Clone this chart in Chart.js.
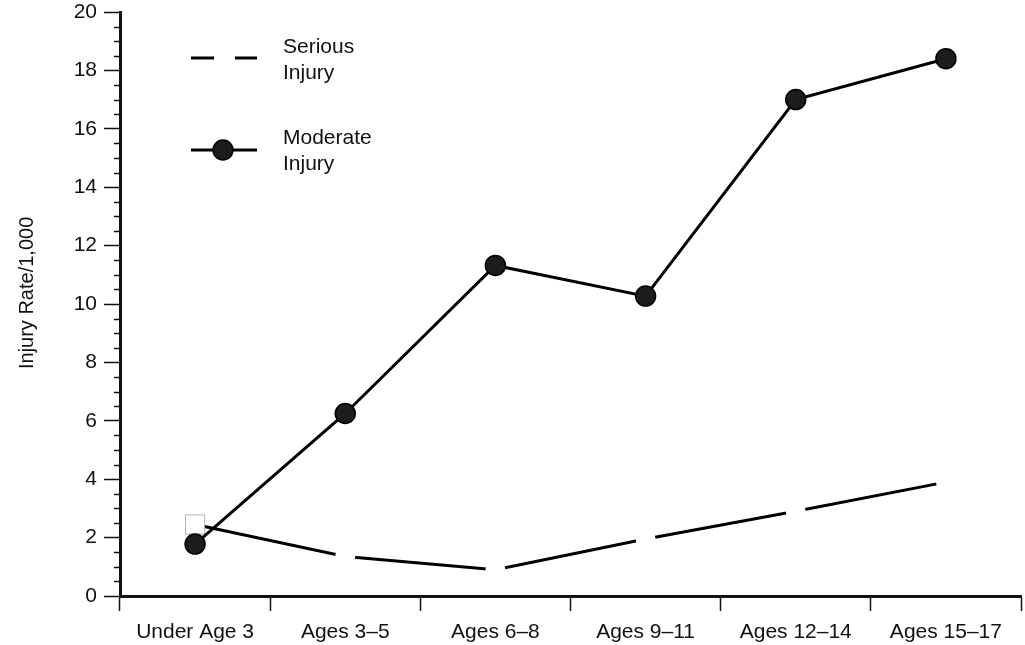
<!DOCTYPE html>
<html lang="en">
<head>
    <meta charset="UTF-8" />
    <title>Injury Rate by Age</title>
    <script src="https://cdn.jsdelivr.net/npm/chart.js"></script>
    <style>
        html, body { margin: 0; padding: 0; background: #fff; }
        #wrap { width: 1025px; height: 645px; }
    </style>
</head>
<body>
    <div id="wrap"><canvas id="injuryChart" width="1025" height="645"></canvas></div>
    <script>
        const ageGroups = ["Under Age 3", "Ages 3\u20135", "Ages 6\u20138", "Ages 9\u201311", "Ages 12\u201314", "Ages 15\u201317"];
        const seriousRates = [2.45, 1.35, 0.9, 1.95, 2.9, 3.9];
        const moderateRates = [1.78, 6.25, 11.32, 10.27, 17.0, 18.4];
        const yTicks = [0, 2, 4, 6, 8, 10, 12, 14, 16, 18, 20];

        const fontFamily = '"Liberation Sans", Arial, Helvetica, sans-serif';

        // minor ticks on the y axis every 0.5
        const minorTicks = {
            id: "minorTicks",
            afterDraw(chart) {
                const y = chart.scales.y;
                const ctx = chart.ctx;
                const x0 = chart.chartArea.left;
                ctx.save();
                ctx.strokeStyle = "#111";
                ctx.lineWidth = 1.5;
                for (let v = 0.5; v < 20; v += 0.5) {
                    if (v % 2 === 0) continue;
                    const py = Math.round(y.getPixelForValue(v)) + 0.5;
                    ctx.beginPath();
                    ctx.moveTo(x0 - 6, py);
                    ctx.lineTo(x0, py);
                    ctx.stroke();
                }
                ctx.restore();
            }
        };

        // legend drawn inside the plot, top left
        const insideLegend = {
            id: "insideLegend",
            afterDraw(chart) {
                const ctx = chart.ctx;
                ctx.save();
                ctx.strokeStyle = "#000";
                ctx.lineWidth = 3;

                // serious: line broken by a white marker
                ctx.beginPath();
                ctx.moveTo(191, 58);
                ctx.lineTo(214, 58);
                ctx.moveTo(235, 58);
                ctx.lineTo(257, 58);
                ctx.stroke();

                // moderate: line with dark dot
                ctx.beginPath();
                ctx.moveTo(191, 150);
                ctx.lineTo(257, 150);
                ctx.stroke();
                ctx.beginPath();
                ctx.arc(223, 150, 10, 0, Math.PI * 2);
                ctx.fillStyle = "#1c1c1c";
                ctx.fill();
                ctx.lineWidth = 1.5;
                ctx.strokeStyle = "#000";
                ctx.stroke();

                ctx.fillStyle = "#111";
                ctx.font = "21px " + fontFamily;
                ctx.textBaseline = "alphabetic";
                ctx.textAlign = "left";
                ctx.fillText("Serious", 283, 53);
                ctx.fillText("Injury", 283, 79);
                ctx.fillText("Moderate", 283, 144);
                ctx.fillText("Injury", 283, 170);
                ctx.restore();
            }
        };

        new Chart(document.getElementById("injuryChart"), {
            type: "line",
            data: {
                labels: ageGroups,
                datasets: [
                    {
                        label: "Moderate Injury",
                        data: moderateRates,
                        borderColor: "#000",
                        borderWidth: 3,
                        pointRadius: 10,
                        pointBackgroundColor: "#1c1c1c",
                        pointBorderColor: "#000",
                        pointBorderWidth: 1.5,
                        tension: 0
                    },
                    {
                        label: "Serious Injury",
                        data: seriousRates,
                        borderColor: "#000",
                        borderWidth: 3,
                        pointStyle: ["rect", "circle", "circle", "circle", "circle", "circle"],
                        pointRadius: [13.5, 10, 10, 10, 10, 10],
                        pointBackgroundColor: "#fff",
                        pointBorderColor: ["#b5b5b5", "#fff", "#fff", "#fff", "#fff", "#fff"],
                        pointBorderWidth: [1, 0, 0, 0, 0, 0],
                        tension: 0
                    }
                ]
            },
            options: {
                responsive: false,
                animation: false,
                devicePixelRatio: 1,
                layout: { autoPadding: false, padding: { top: 12, right: 4, left: 0, bottom: 0 } },
                plugins: {
                    legend: { display: false },
                    tooltip: { enabled: false }
                },
                scales: {
                    x: {
                        offset: true,
                        grid: {
                            offset: true,
                            drawOnChartArea: false,
                            tickLength: 15,
                            tickWidth: 1.5,
                            tickColor: "#111"
                        },
                        border: { color: "#111", width: 3 },
                        ticks: {
                            color: "#111",
                            padding: 9,
                            maxRotation: 0,
                            autoSkip: false,
                            font: { family: fontFamily, size: 21 }
                        },
                        afterFit(scale) {
                            scale.height = 49;
                            scale.paddingLeft = 0;
                            scale.paddingRight = 0;
                        }
                    },
                    y: {
                        min: 0,
                        max: 20,
                        afterBuildTicks(scale) {
                            scale.ticks = yTicks.map(v => ({ value: v }));
                        },
                        grid: {
                            drawOnChartArea: false,
                            tickLength: 16,
                            tickWidth: 1.5,
                            tickColor: "#111"
                        },
                        border: { color: "#111", width: 3 },
                        ticks: {
                            color: "#111",
                            padding: 7,
                            font: { family: fontFamily, size: 21 }
                        },
                        title: {
                            display: true,
                            text: "    Injury Rate/1,000",
                            color: "#111",
                            padding: { top: 15, bottom: 0 },
                            font: { family: fontFamily, size: 20 }
                        },
                        afterFit(scale) {
                            scale.width = 120;
                            scale.paddingTop = 0;
                            scale.paddingBottom = 0;
                        }
                    }
                }
            },
            plugins: [minorTicks, insideLegend]
        });
    </script>
</body>
</html>
